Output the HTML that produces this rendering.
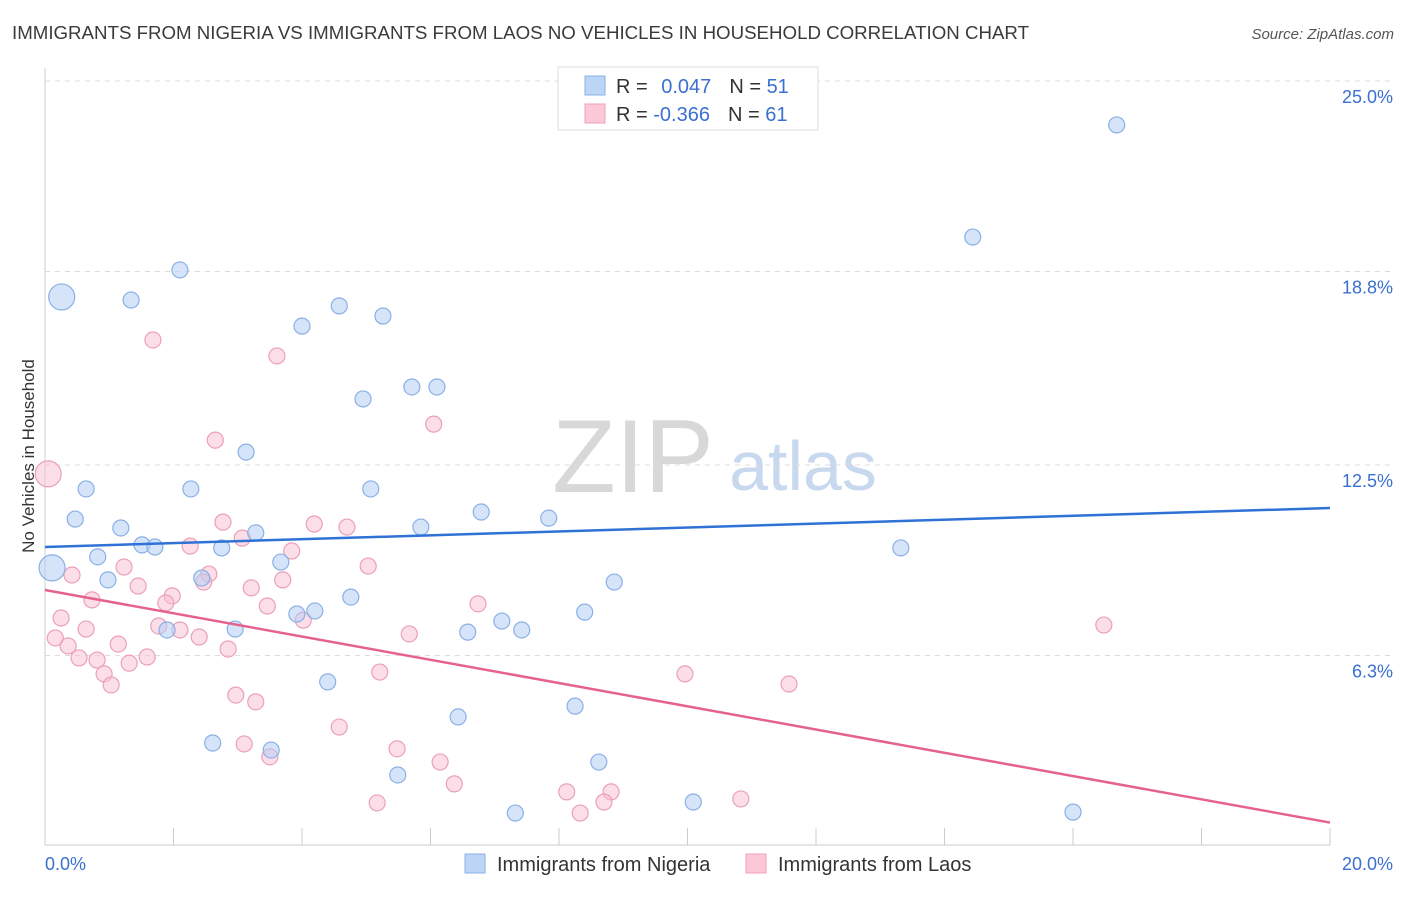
<!DOCTYPE html>
<html><head><meta charset="utf-8"><style>
body{margin:0;background:#fff;font-family:"Liberation Sans",sans-serif;}
svg text{font-family:"Liberation Sans",sans-serif;}
</style></head><body>
<svg id="chart" width="1406" height="892" xmlns="http://www.w3.org/2000/svg">
<text x="12" y="39" font-size="18" fill="#3a3a3a" textLength="1017" lengthAdjust="spacingAndGlyphs">IMMIGRANTS FROM NIGERIA VS IMMIGRANTS FROM LAOS NO VEHICLES IN HOUSEHOLD CORRELATION CHART</text>
<text x="1394" y="39" font-size="15" fill="#555" text-anchor="end" font-style="italic">Source: ZipAtlas.com</text>
<text transform="translate(34,456) rotate(-90)" font-size="17" fill="#333" text-anchor="middle">No Vehicles in Household</text>
<g>
<text x="633" y="492" font-size="104" fill="#d8d8d8" text-anchor="middle" font-family="Liberation Serif">ZIP</text>
<text x="803" y="490" font-size="70" fill="#c8d8ee" text-anchor="middle">atlas</text>
</g>
<g id="grid"></g><g id="axes"></g><g id="pts"></g><g id="lines"></g>
<g>
<rect x="558" y="67" width="260" height="63" fill="#fff" stroke="#ddd"/>
<rect x="585" y="76" width="20" height="19" fill="#bcd4f5" stroke="#8ab0e6"/>
<rect x="585" y="104" width="20" height="19" fill="#fcc8d8" stroke="#eea0b8"/>
<text x="616" y="93" font-size="20" fill="#333">R = <tspan fill="#3b6fd0" dx="8">0.047</tspan><tspan dx="18" fill="#333">N = </tspan><tspan fill="#3b6fd0">51</tspan></text>
<text x="616" y="121" font-size="20" fill="#333">R = <tspan fill="#3b6fd0">-0.366</tspan><tspan dx="18" fill="#333">N = </tspan><tspan fill="#3b6fd0">61</tspan></text>
</g>
<g>
<rect x="465" y="854" width="20" height="19" fill="#bcd4f5" stroke="#8ab0e6"/>
<text x="497" y="871" font-size="20" fill="#333">Immigrants from Nigeria</text>
<rect x="746" y="854" width="20" height="19" fill="#fcc8d8" stroke="#eea0b8"/>
<text x="778" y="871" font-size="20" fill="#333">Immigrants from Laos</text>
</g>
</svg>
<script>
const yTicks=[25.0,18.8,12.5,6.3];
const yTickLabels=["25.0%","18.8%","12.5%","6.3%"];
const xTickLabels=["0.0%","20.0%"];
const nigeriaX=[0.26,1.34,2.10,4.00,4.58,5.26,4.95,5.71,6.10,3.13,0.64,2.27,5.07,0.47,1.18,3.28,5.85,6.79,7.84,1.51,1.71,2.75,0.82,3.67,0.11,0.98,2.44,8.86,13.32,4.76,3.92,4.20,8.40,7.11,6.58,7.42,1.90,2.96,4.40,6.43,8.25,2.61,3.52,5.49,8.62,10.09,7.32,16.00,14.44,16.68,11.35];
const nigeriaY=[17.97,17.87,18.85,17.02,17.68,17.35,14.65,15.04,15.04,12.92,11.72,11.72,11.72,10.74,10.45,10.29,10.48,10.97,10.77,9.90,9.83,9.80,9.51,9.34,9.15,8.76,8.82,8.69,9.80,8.20,7.65,7.75,7.71,7.42,7.06,7.13,7.13,7.16,5.44,4.30,4.65,3.45,3.22,2.41,2.83,1.53,1.17,1.20,19.92,23.57,25.03];
const nigeriaBig=[0,24];
const laosX=[0.05,1.68,3.61,6.05,2.65,2.77,4.19,4.70,3.07,2.26,3.84,0.42,1.23,5.03,2.55,1.45,3.70,1.98,3.21,2.47,0.73,1.88,3.46,6.74,0.25,4.02,0.64,1.77,2.10,2.40,5.67,16.48,1.14,0.16,0.36,2.85,0.53,0.81,1.59,1.31,0.92,1.03,5.21,9.96,11.58,2.97,3.28,4.58,3.10,3.50,5.48,6.15,6.37,8.12,5.17,8.33,8.81,8.70,10.83];
const laosY=[12.21,16.57,16.05,13.83,13.31,10.64,10.58,10.48,10.12,9.86,9.70,8.92,9.18,9.21,8.95,8.56,8.76,8.24,8.50,8.69,8.11,8.01,7.91,7.98,7.52,7.45,7.16,7.26,7.13,6.90,7.00,7.29,6.67,6.87,6.61,6.51,6.22,6.15,6.25,6.05,5.70,5.34,5.76,5.70,5.37,5.01,4.79,3.97,3.42,3.00,3.26,2.83,2.12,1.86,1.50,1.17,1.86,1.53,1.63];
const laosBig=[0];
const nigeriaTrend=[9.83,11.10];
const laosTrend=[8.43,0.86];
const NS="http://www.w3.org/2000/svg";
const X0=45,X1=1330,Y0=849,YS=768/25;
const sx=v=>X0+(X1-X0)*v/20, sy=v=>Y0-v*YS;
function mk(t,a,p){const e=document.createElementNS(NS,t);for(const k in a)e.setAttribute(k,a[k]);document.getElementById(p).appendChild(e);return e;}
yTicks.forEach((t,i)=>{
 const l=mk('line',{x1:45,x2:1394,y1:sy(t),y2:sy(t),stroke:'#ddd','stroke-dasharray':'5,5'},'grid');
 
 
 const tx=mk('text',{x:1393,y:sy(t)+22,'font-size':18,fill:'#3b6fd0','text-anchor':'end'},'axes');
 tx.textContent=yTickLabels[i];
 
 
});
mk('line',{x1:45,x2:45,y1:68,y2:845,stroke:'#ccc'},'axes');
mk('line',{x1:45,x2:1330,y1:845,y2:845,stroke:'#ccc'},'axes');
for(let i=0;i<=10;i++){const x=sx(i*2);const l=mk('line',{x1:x,x2:x,y1:828,y2:845,stroke:'#ccc'},'axes');
 
 }
[[0,45,'start'],[1,1393,'end']].forEach(([i,x,a])=>{const t=mk('text',{x:x,y:870,'font-size':18,fill:'#3b6fd0','text-anchor':a},'axes');t.textContent=xTickLabels[i];
 
 });
function pts(X,Y,big,fill,stroke,name){X.forEach((v,i)=>{const c=mk('circle',{cx:sx(v),cy:sy(Y[i]),r:big.includes(i)?13:8,fill:fill,stroke:stroke,'stroke-width':1.2},'pts');
 
 });}
pts(laosX,laosY,laosBig,'rgba(250,190,210,0.5)','#eba0b8','laos-point');
pts(nigeriaX,nigeriaY,nigeriaBig,'rgba(180,205,245,0.55)','#8ab0e6','nigeria-point');
const b=mk('line',{x1:sx(0),y1:sy(nigeriaTrend[0]),x2:sx(20),y2:sy(nigeriaTrend[1]),stroke:'#2f72d6','stroke-width':2.5},'lines');


const p=mk('line',{x1:sx(0),y1:sy(laosTrend[0]),x2:sx(20),y2:sy(laosTrend[1]),stroke:'#e5628f','stroke-width':2.5},'lines');


</script>
</body></html>
